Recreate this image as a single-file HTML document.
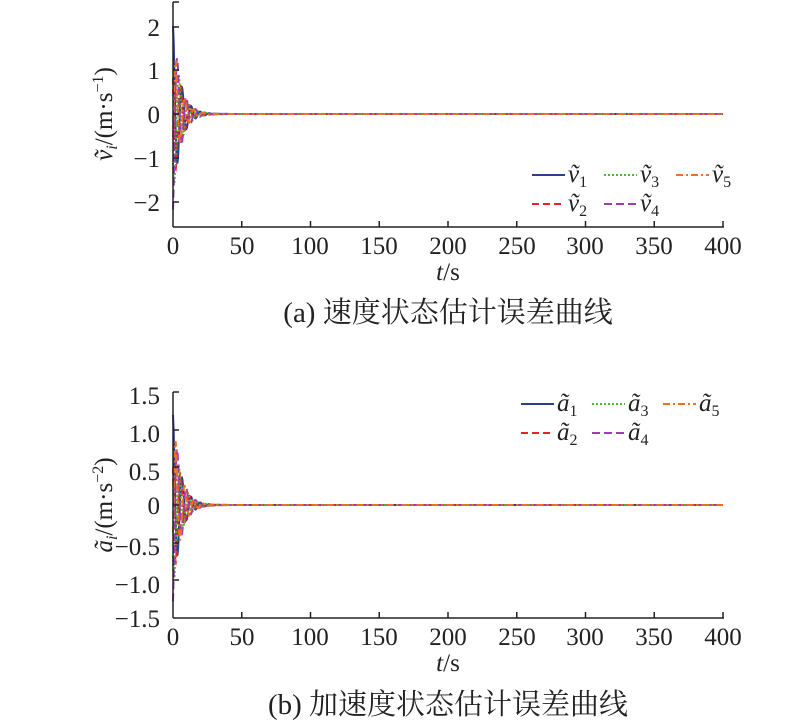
<!DOCTYPE html>
<html><head><meta charset="utf-8"><style>
html,body{margin:0;padding:0;background:#fff;}
svg{display:block;font-family:"Liberation Serif","Noto Serif CJK SC",serif;}
</style></head><body>
<svg id="s" width="800" height="724" viewBox="0 0 800 724">
<g id="g1"></g><g id="g2"></g>
<g font-size="25" fill="#222">
<line x1="173" y1="2" x2="173" y2="227" stroke="#222" stroke-width="1.5"/>
<line x1="173" y1="227" x2="724" y2="227" stroke="#222" stroke-width="1.5"/>
<line x1="173" y1="2" x2="179" y2="2" stroke="#222" stroke-width="1.5"/>
<text x="160" y="36" text-anchor="end">2</text>
<text x="160" y="79" text-anchor="end">1</text>
<text x="160" y="123" text-anchor="end">0</text>
<text x="160" y="167" text-anchor="end">−1</text>
<text x="160" y="211" text-anchor="end">−2</text>
<g text-anchor="middle">
<text x="173" y="254">0</text><text x="242" y="254">50</text><text x="310" y="254">100</text><text x="379" y="254">150</text><text x="448" y="254">200</text><text x="517" y="254">250</text><text x="585" y="254">300</text><text x="654" y="254">350</text><text x="723" y="254">400</text>
<text x="448" y="280"><tspan font-style="italic">t</tspan>/s</text>
<text x="448" y="322" font-size="29">(a) 速度状态估计误差曲线</text>
</g>
<text transform="translate(112,114) rotate(-90)" text-anchor="middle"><tspan font-style="italic">ṽ</tspan><tspan font-style="italic" font-size="16" dy="5">i</tspan><tspan dy="-5">/(m·s</tspan><tspan font-size="16" dy="-9">−1</tspan><tspan dy="9">)</tspan></text>
<line x1="173" y1="392" x2="173" y2="618" stroke="#222" stroke-width="1.5"/>
<line x1="173" y1="618" x2="724" y2="618" stroke="#222" stroke-width="1.5"/>
<line x1="173" y1="392" x2="179" y2="392" stroke="#222" stroke-width="1.5"/>
<text x="160" y="404" text-anchor="end">1.5</text>
<text x="160" y="442" text-anchor="end">1.0</text>
<text x="160" y="480" text-anchor="end">0.5</text>
<text x="160" y="514" text-anchor="end">0</text>
<text x="160" y="555" text-anchor="end">−0.5</text>
<text x="160" y="593" text-anchor="end">−1.0</text>
<text x="160" y="627" text-anchor="end">−1.5</text>
<g text-anchor="middle">
<text x="173" y="645">0</text><text x="242" y="645">50</text><text x="310" y="645">100</text><text x="379" y="645">150</text><text x="448" y="645">200</text><text x="517" y="645">250</text><text x="585" y="645">300</text><text x="654" y="645">350</text><text x="723" y="645">400</text>
<text x="448" y="671"><tspan font-style="italic">t</tspan>/s</text>
<text x="448" y="714" font-size="29">(b) 加速度状态估计误差曲线</text>
</g>
<text transform="translate(112,505) rotate(-90)" text-anchor="middle"><tspan font-style="italic">ã</tspan><tspan font-style="italic" font-size="16" dy="5">i</tspan><tspan dy="-5">/(m·s</tspan><tspan font-size="16" dy="-9">−2</tspan><tspan dy="9">)</tspan></text>
</g>
<g id="leg"></g>
</svg>
<script>
var NS="http://www.w3.org/2000/svg";
function el(p,t,a){var e=document.createElementNS(NS,t);for(var k in a)e.setAttribute(k,a[k]);p.appendChild(e);return e;}
var cols=["#2b3f8f","#e8202a","#4cbb2a","#9b3fb0","#f07020"];
var dash=["","7,4","2,2","8,4","7,3,2,3"];
var s=document.getElementById("s");
function ticks(y0){for(var i=1;i<=8;i++){var x=173+i*68.75;el(s,"line",{x1:x,y1:y0,x2:x,y2:y0-6,stroke:"#222","stroke-width":1.5});}}
function plot(gid,y0,sc,amps){
 var g=document.getElementById(gid);
 for(var k=0;k<5;k++){
  var d="";
  for(var t=0;t<=400;t+=0.25){
   var v=amps[k]*Math.exp(-t/5.5)*Math.cos(0.95*t+k*1.1);
   var x=173+t*1.375,y=y0-v*sc;
   d+=(t==0?"M":"L")+x.toFixed(1)+","+y.toFixed(1);
  }
  el(g,"path",{d:d,fill:"none",stroke:cols[k],"stroke-width":2,"stroke-dasharray":dash[k]});
 }
}
plot("g1",114,44,[2.0,1.8,1.9,2.2,1.7]);
plot("g2",505,75,[1.2,1.1,1.15,1.3,1.2]);
ticks(227);ticks(618);
[27,70,114,158,202].forEach(function(y){el(s,"line",{x1:173,y1:y,x2:179,y2:y,stroke:"#222","stroke-width":1.5});});
[430,467,505,543,580].forEach(function(y){el(s,"line",{x1:173,y1:y,x2:179,y2:y,stroke:"#222","stroke-width":1.5});});
var L=document.getElementById("leg");
function legend(x0,y0,sym,sp){
 var pos=[[0,0],[0,29],[sp,0],[sp,29],[2*sp,0]];
 for(var k=0;k<5;k++){
  var x=x0+pos[k][0],y=y0+pos[k][1];
  el(L,"line",{x1:x,y1:y,x2:x+33,y2:y,stroke:cols[k],"stroke-width":2,"stroke-dasharray":dash[k]});
  var t=el(L,"text",{x:x+36,y:y+7,"font-size":25,"font-style":"italic",fill:"#222"});
  t.textContent=sym;
  var s2=el(t,"tspan",{"font-size":16,"font-style":"normal",dy:5});s2.textContent=k+1;
 }
}
legend(532,175,"ṽ",72);
legend(521,404,"ã",71);
</script>
</body></html>
